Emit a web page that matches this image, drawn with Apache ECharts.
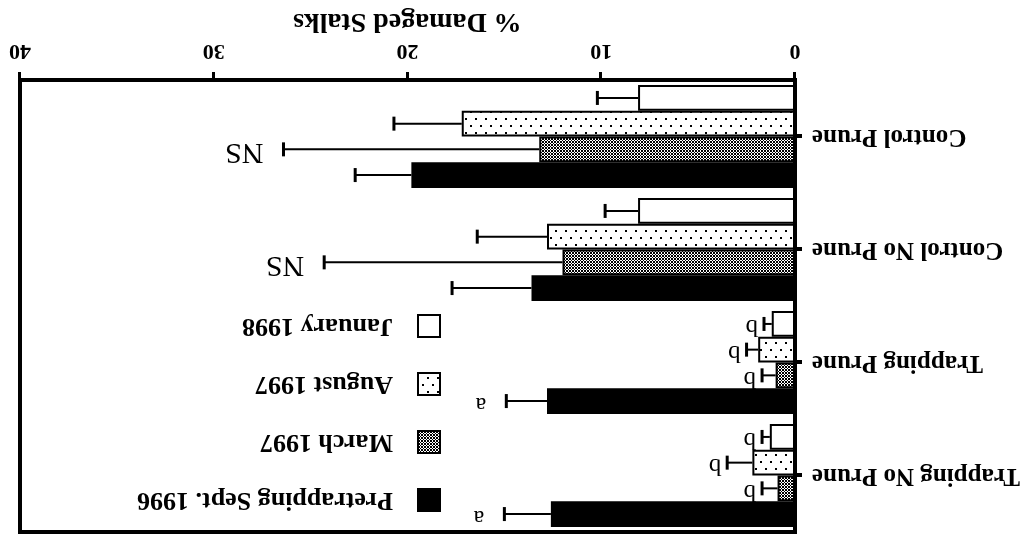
<!DOCTYPE html>
<html>
<head>
<meta charset="utf-8">
<script src="https://cdn.jsdelivr.net/npm/echarts@6/dist/echarts.min.js"></script>
<style>
  html, body { margin: 0; padding: 0; background: #fff; }
  /* the original figure is printed upside down */
  #chart { width: 1023px; height: 535px; transform: rotate(180deg); }
</style>
</head>
<body>
<div id="chart"></div>
<script>
// categories, bottom to top
const categories = ['Control Prune', 'Control No Prune', 'Trapping Prune', 'Trapping No Prune'];

const pretrapping = [19.8, 13.6, 12.8, 12.6];
const pretrappingErr = [2.9, 4.1, 2.1, 2.4];
const pretrappingSig = ['', '', 'a', 'a'];

const march = [13.2, 12.0, 1.0, 0.9];
const marchErr = [13.2, 12.3, 0.7, 0.8];
const marchSig = ['NS', 'NS', 'b', 'b'];

const august = [17.2, 12.8, 1.9, 2.2];
const augustErr = [3.5, 3.6, 0.6, 1.3];
const augustSig = ['', '', 'b', 'b'];

const january = [8.1, 8.1, 1.2, 1.3];
const januaryErr = [2.1, 1.7, 0.4, 0.4];
const januarySig = ['', '', 'b', 'b'];

const valueTicks = [0, 10, 20, 30, 40];

const FONT = 'Liberation Serif';
const GAP = 0.09;

// fill patterns
function dotPattern() {
  const c = document.createElement('canvas');
  c.width = 10; c.height = 14;
  const ctx = c.getContext('2d');
  ctx.fillStyle = '#fff';
  ctx.fillRect(0, 0, 10, 14);
  ctx.fillStyle = '#000';
  ctx.fillRect(1, 2, 2, 2);
  ctx.fillRect(6, 9, 2, 2);
  return { image: c, repeat: 'repeat' };
}

function checkPattern() {
  const c = document.createElement('canvas');
  c.width = 3; c.height = 3;
  const ctx = c.getContext('2d');
  ctx.fillStyle = '#fff';
  ctx.fillRect(0, 0, 3, 3);
  ctx.fillStyle = '#000';
  [[0, 0], [2, 0], [1, 1], [0, 2], [2, 2]].forEach(function (p) {
    ctx.fillRect(p[0], p[1], 1, 1);
  });
  return { image: c, repeat: 'repeat' };
}

const groups = [
  { name: 'Pretrapping Sept. 1996', values: pretrapping, errs: pretrappingErr, sig: pretrappingSig, color: '#000' },
  { name: 'March 1997', values: march, errs: marchErr, sig: marchSig, color: checkPattern() },
  { name: 'August 1997', values: august, errs: augustErr, sig: augustSig, color: dotPattern() },
  { name: 'January 1998', values: january, errs: januaryErr, sig: januarySig, color: '#fff' },
];

// space between the error cap and its letter
const sigGap = { NS: 20, a: 20, b: 6 };
const sigSize = { NS: 30, a: 24, b: 25 };

function errorRender(idx, sig) {
  return function (params, api) {
    const cat = api.value(0);
    const val = api.value(1);
    const err = api.value(2);
    const band = api.size([0, 1])[1];
    const total = band * (1 - GAP);
    const w = total / groups.length;
    const off = -total / 2 + (idx + 0.5) * w;
    const p0 = api.coord([val, cat]);
    const p1 = api.coord([val + err, cat]);
    const y = p0[1] + off;
    const children = [
      { type: 'line', shape: { x1: p0[0], y1: y, x2: p1[0], y2: y }, style: { stroke: '#000', lineWidth: 2 } },
      { type: 'line', shape: { x1: p1[0], y1: y - 7, x2: p1[0], y2: y + 7 }, style: { stroke: '#000', lineWidth: 3 } },
    ];
    const txt = sig[params.dataIndex];
    if (txt) {
      children.push({
        type: 'text',
        style: {
          text: txt, x: p1[0] + sigGap[txt], y: y - 3,
          fill: '#000', font: sigSize[txt] + 'px "' + FONT + '"',
          textAlign: 'left', textVerticalAlign: 'middle'
        }
      });
    }
    return { type: 'group', children: children };
  };
}

const series = [];
groups.forEach(function (g) {
  series.push({
    name: g.name,
    type: 'bar',
    data: g.values,
    barGap: 0,
    barCategoryGap: (GAP * 100) + '%',
    itemStyle: { color: g.color, borderColor: '#000', borderWidth: 2 },
    emphasis: { disabled: true },
    z: 3,
  });
});
groups.forEach(function (g, i) {
  series.push({
    name: g.name + ' err',
    type: 'custom',
    renderItem: errorRender(i, g.sig),
    encode: { x: 1, y: 0 },
    data: g.values.map(function (v, k) { return [k, v, g.errs[k]]; }),
    z: 2,
  });
});

const chart = echarts.init(document.getElementById('chart'));
chart.setOption({
  animation: false,
  backgroundColor: '#fff',
  textStyle: { fontFamily: FONT, color: '#000' },
  grid: {
    left: 228, right: 20, top: 3, bottom: 80,
    show: true, borderColor: '#000', borderWidth: 4,
  },
  legend: {
    data: groups.map(function (g) { return g.name; }),
    orient: 'vertical',
    left: 577,
    top: 17,
    itemWidth: 22,
    itemHeight: 22,
    itemGap: 32,
    icon: 'rect',
    selectedMode: false,
    textStyle: {
      fontFamily: FONT, fontWeight: 'bold', fontSize: 26, lineHeight: 26, color: '#000',
      padding: [0, 0, 0, 20],
    },
  },
  xAxis: {
    type: 'value',
    min: valueTicks[0],
    max: valueTicks[valueTicks.length - 1],
    interval: 10,
    name: '% Damaged Stalks',
    nameLocation: 'middle',
    nameGap: 36,
    nameTextStyle: { fontFamily: FONT, fontWeight: 'bold', fontSize: 28, color: '#000' },
    axisLine: { show: true, lineStyle: { color: '#000', width: 4 } },
    axisTick: { show: true, length: 8, lineStyle: { color: '#000', width: 3 } },
    axisLabel: { margin: 18, fontFamily: FONT, fontWeight: 'bold', fontSize: 22, color: '#000' },
    splitLine: { show: false },
  },
  yAxis: {
    type: 'category',
    data: categories,
    axisLine: { show: true, lineStyle: { color: '#000', width: 4 } },
    axisTick: { show: true, alignWithLabel: true, length: 7, lineStyle: { color: '#000', width: 4 } },
    axisLabel: {
      margin: 17, fontFamily: FONT, fontWeight: 'bold', fontSize: 25, color: '#000',
      padding: [0, 0, 10, 0],
    },
    splitLine: { show: false },
  },
  series: series,
});
</script>
</body>
</html>
